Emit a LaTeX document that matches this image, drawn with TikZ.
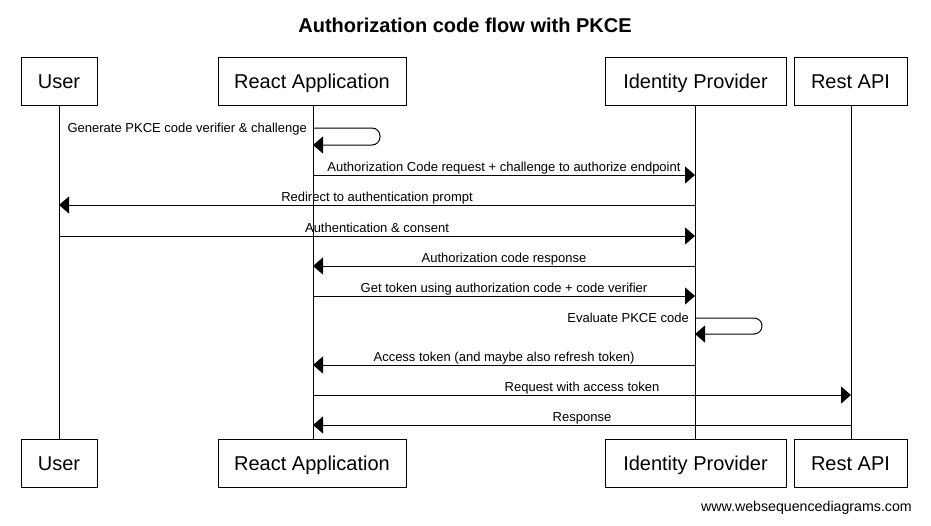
\documentclass[tikz,border=0pt]{standalone}
\usepackage{fontspec}
\setmainfont{Liberation Sans}
\usetikzlibrary{arrows.meta}
\begin{document}
\begin{tikzpicture}[x=1pt,y=-1pt,
  actor/.style={draw,line width=1pt,minimum height=48pt,inner sep=0pt,text height=14pt,text depth=0pt,font=\fontsize{20}{24}\selectfont},
  life/.style={line width=1pt},
  msg/.style={line width=1pt,-{Triangle[length=10pt,width=17pt]}},
  lbl/.style={font=\fontsize{13}{15}\selectfont,inner sep=0pt,anchor=base}]
\useasboundingbox (0,0) rectangle (931,525);
\node[font=\bfseries\fontsize{20}{24}\selectfont] (title) at (465,25) {Authorization code flow with PKCE};
% top actors
\node[actor,minimum width=76pt] (u1) at (59,81) {User};
\node[actor,minimum width=188pt] (r1) at (312,81) {React Application};
\node[actor,minimum width=181pt] (i1) at (695.5,81) {Identity Provider};
\node[actor,minimum width=113pt] (a1) at (850.5,81) {Rest API};
% bottom actors
\node[actor,minimum width=76pt] (u2) at (59,463) {User};
\node[actor,minimum width=188pt] (r2) at (312,463) {React Application};
\node[actor,minimum width=181pt] (i2) at (695.5,463) {Identity Provider};
\node[actor,minimum width=113pt] (a2) at (850.5,463) {Rest API};
% lifelines
\coordinate (uL) at (59,0); \coordinate (rL) at (313,0); \coordinate (iL) at (695,0); \coordinate (aL) at (851,0);
\draw[life] (uL |- u1.south) -- (uL |- u2.north);
\draw[life] (rL |- u1.south) -- (rL |- u2.north);
\draw[life] (iL |- u1.south) -- (iL |- u2.north);
\draw[life] (aL |- u1.south) -- (aL |- u2.north);
% 1 self
\draw[msg,rounded corners=8pt] (313,128) -- (380,128) -- (380,145) -- (313,145);
\node[lbl,anchor=base east] (m1) at (307,132) {Generate PKCE code verifier \& challenge};
% 2
\draw[msg] (313,175) -- (695,175);
\node[lbl] (m2) at (504,171) {Authorization Code request + challenge to authorize endpoint};
% 3
\draw[msg] (695,205) -- (59,205);
\node[lbl] (m3) at (377,201) {Redirect to authentication prompt};
% 4
\draw[msg] (59,236) -- (695,236);
\node[lbl] (m4) at (377,232) {Authentication \& consent};
% 5
\draw[msg] (695,266) -- (313,266);
\node[lbl] (m5) at (504,262) {Authorization code response};
% 6
\draw[msg] (313,296) -- (695,296);
\node[lbl] (m6) at (504,292) {Get token using authorization code + code verifier};
% 7 self
\draw[msg,rounded corners=8pt] (695,318) -- (762,318) -- (762,334) -- (695,334);
\node[lbl,anchor=base east] (m7) at (689,322) {Evaluate PKCE code};
% 8
\draw[msg] (695,365) -- (313,365);
\node[lbl] (m8) at (504,361) {Access token (and maybe also refresh token)};
% 9
\draw[msg] (313,395) -- (851,395);
\node[lbl] (m9) at (582,391) {Request with access token};
% 10
\draw[msg] (851,425) -- (313,425);
\node[lbl] (m10) at (582,421) {Response};
\node[font=\fontsize{14.2}{16}\selectfont,anchor=base east,inner sep=0pt] (wm) at (912,511) {www.websequencediagrams.com};
\end{tikzpicture}
\end{document}
